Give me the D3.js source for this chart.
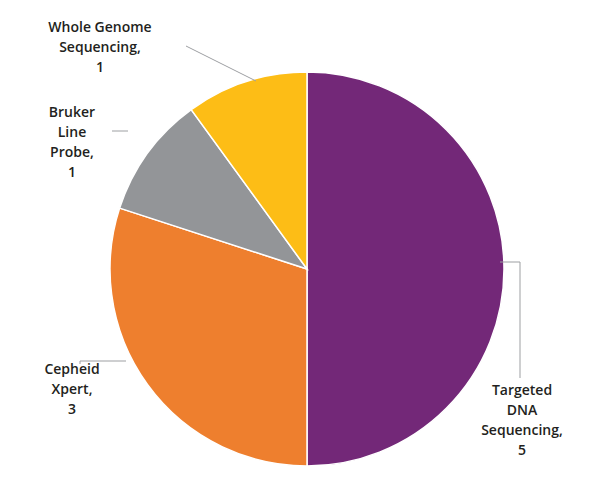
<!DOCTYPE html>
<html><head><meta charset="utf-8">
<script src="https://cdn.jsdelivr.net/npm/d3@7"></script>
<style>body{margin:0;background:#fff}</style></head>
<body><div id="viz"></div>
<script>
const categories = ["Targeted DNA Sequencing", "Cepheid Xpert", "Bruker Line Probe", "Whole Genome Sequencing"]
const values = [5, 3, 1, 1]
const colors = ["#732878", "#ee7f2e", "#939598", "#fdbd16"]
const labelLines = [["Targeted", "DNA", "Sequencing,", "5"], ["Cepheid", "Xpert,", "3"], ["Bruker", "Line", "Probe,", "1"], ["Whole Genome", "Sequencing,", "1"]]

const width = 611, height = 486
const cx = 307, cy = 269, r = 197

const svg = d3.select("#viz").append("svg").attr("width", width).attr("height", height)
const g = svg.append("g").attr("transform", `translate(${cx},${cy})`)

const pie = d3.pie().sort(null).value(d => d)
const arc = d3.arc().innerRadius(0).outerRadius(r)
const arcs = pie(values)

g.selectAll("path").data(arcs).enter().append("path")
    .attr("d", arc)
    .attr("fill", (d, i) => colors[i])
    .attr("stroke", "#fff").attr("stroke-width", 1.5)

// leader lines and label positions (absolute)
const leaders = [
    [[cx + r - 4, 262], [520, 262], [520, 378]],
    [[cx - r + 16, 361], [80, 361], [80, 364]],
    [[cx - r + 18, 131], [112, 131]],
    [[256, 81], [186, 46]]
]
const labelPos = [[522, 395], [72, 374], [72, 117], [100, 32]]

svg.selectAll("polyline").data(leaders).enter().append("polyline")
    .attr("points", d => d.map(p => p.join(",")).join(" "))
    .attr("fill", "none").attr("stroke", "#9d9fa2").attr("stroke-width", 1)

labelLines.forEach((lines, i) => {
    const t = svg.append("text")
        .attr("x", labelPos[i][0]).attr("y", labelPos[i][1])
        .attr("text-anchor", "middle")
        .attr("font-family", "Open Sans, sans-serif")
        .attr("font-size", 14).attr("font-weight", 600)
        .attr("fill", "#231f20")
    lines.forEach((l, j) => t.append("tspan").attr("x", labelPos[i][0]).attr("dy", j ? 20 : 0).text(l))
})
</script></body></html>
